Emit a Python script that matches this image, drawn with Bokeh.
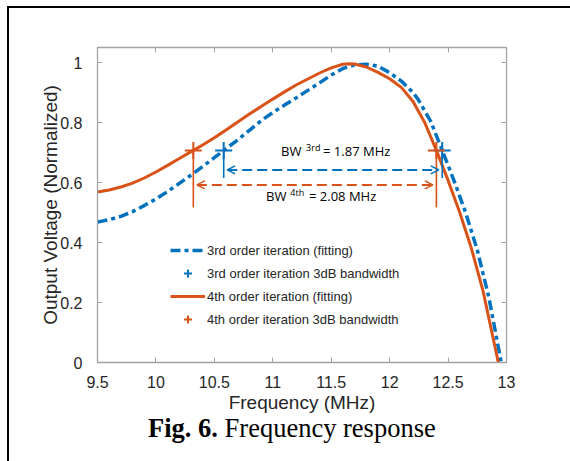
from bokeh.plotting import figure
from bokeh.layouts import column
from bokeh.models import (Range1d, LinearAxis, FixedTicker, Legend, LegendItem,
                          Arrow, OpenHead, Label, Div)
from bokeh.embed import file_html
from bokeh.resources import INLINE

# ---- data ----
freq4 = [9.5, 9.6, 9.7, 9.8, 9.9, 10.0, 10.1, 10.2, 10.32, 10.4, 10.5, 10.6, 10.7, 10.8,
         10.9, 11.0, 11.1, 11.2, 11.3, 11.4, 11.5, 11.6, 11.65, 11.7, 11.8, 11.9, 12.0,
         12.1, 12.2, 12.3, 12.4, 12.5, 12.6, 12.7, 12.8, 12.9, 12.93]
volt4 = [0.568, 0.575, 0.585, 0.598, 0.615, 0.635, 0.657, 0.680, 0.707, 0.725, 0.749,
         0.775, 0.802, 0.828, 0.853, 0.878, 0.902, 0.925, 0.945, 0.965, 0.982, 0.994,
         0.996, 0.995, 0.985, 0.967, 0.946, 0.917, 0.870, 0.800, 0.707, 0.607, 0.500,
         0.380, 0.237, 0.055, 0.0]

freq3 = [9.5, 9.6, 9.7, 9.8, 9.9, 10.0, 10.1, 10.2, 10.32, 10.45, 10.58, 10.7, 10.8,
         10.9, 11.0, 11.1, 11.2, 11.3, 11.4, 11.5, 11.6, 11.7, 11.8, 11.9, 12.0, 12.1,
         12.2, 12.25, 12.35, 12.45, 12.55, 12.65, 12.75, 12.85, 12.955]
volt3 = [0.468, 0.476, 0.487, 0.503, 0.523, 0.545, 0.570, 0.597, 0.630, 0.668, 0.707,
         0.742, 0.774, 0.806, 0.833, 0.858, 0.882, 0.907, 0.932, 0.958, 0.980, 0.992,
         0.994, 0.988, 0.966, 0.938, 0.900, 0.873, 0.805, 0.707, 0.607, 0.500, 0.375,
         0.215, 0.0]

bw3_freq = [10.58, 12.45]
bw4_freq = [10.32, 12.40]
bw_level = 0.707
bw3_value = "1.87 MHz"
bw4_value = "2.08 MHz"
bw3_line_bottom = 0.615
bw4_line_bottom = 0.517
bw3_arrow_y = 0.642
bw4_arrow_y = 0.592

xticks = [9.5, 10, 10.5, 11, 11.5, 12, 12.5, 13]
xtick_labels = ["9.5", "10", "10.5", "11", "11.5", "12", "12.5", "13"]
yticks = [0, 0.2, 0.4, 0.6, 0.8, 1]
ytick_labels = ["0", "0.2", "0.4", "0.6", "0.8", "1"]

legend_labels = ["3rd order iteration (fitting)",
                 "3rd order iteration 3dB bandwidth",
                 "4th order iteration (fitting)",
                 "4th order iteration 3dB bandwidth"]
caption_bold = "Fig. 6."
caption_text = "Frequency response"

BLUE = "#0072BD"
ORANGE = "#D95319"
AX = "#a3a3a3"
TXT = "#262626"
SANS = "Liberation Sans"

p = figure(width=561, height=410, x_range=Range1d(9.5, 13), y_range=Range1d(0, 1.05),
           output_backend="svg", toolbar_location=None,
           min_border_left=88, min_border_right=64, min_border_top=39, min_border_bottom=56)
p.xgrid.visible = False
p.ygrid.visible = False
p.outline_line_color = AX
p.outline_line_width = 1.3
p.background_fill_color = "white"
p.border_fill_color = "white"


def style_axis(ax, ticks, labels, show_labels):
    ax.ticker = FixedTicker(ticks=ticks)
    ax.axis_line_color = AX
    ax.major_tick_line_color = AX
    ax.major_tick_in = 5
    ax.major_tick_out = 0
    ax.minor_tick_line_color = None
    ax.major_label_text_font = SANS
    ax.major_label_text_color = TXT
    ax.major_label_text_font_size = "16px"
    if show_labels:
        ax.major_label_overrides = {t: l for t, l in zip(ticks, labels)}
    else:
        ax.major_label_overrides = {t: "" for t in ticks}
        ax.major_label_standoff = 0


style_axis(p.xaxis[0], xticks, xtick_labels, True)
style_axis(p.yaxis[0], yticks, ytick_labels, True)
p.xaxis.major_label_standoff = 13
p.yaxis.major_label_standoff = 15
p.xaxis.axis_label = "Frequency (MHz)"
p.yaxis.axis_label = "Output Voltage (Normalized)"
for ax in (p.xaxis[0], p.yaxis[0]):
    ax.axis_label_text_font = SANS
    ax.axis_label_text_font_size = "19px"
    ax.axis_label_text_font_style = "normal"
    ax.axis_label_text_color = TXT
p.xaxis.axis_label_standoff = 1
p.yaxis.axis_label_standoff = -4

top_ax = LinearAxis()
style_axis(top_ax, xticks, xtick_labels, False)
p.add_layout(top_ax, "above")
right_ax = LinearAxis()
style_axis(right_ax, yticks, ytick_labels, False)
p.add_layout(right_ax, "right")

# curves
l3 = p.line(freq3, volt3, color=BLUE, line_width=3.5, line_dash="10 4 4 4")
l4 = p.line(freq4, volt4, color=ORANGE, line_width=3)

# bandwidth vertical guides
p.segment(x0=bw4_freq, y0=[bw_level] * 2, x1=bw4_freq, y1=[bw4_line_bottom] * 2,
          color=ORANGE, line_width=1.6)
p.segment(x0=bw3_freq, y0=[bw_level] * 2, x1=bw3_freq, y1=[bw3_line_bottom] * 2,
          color=BLUE, line_width=1.6)

m3 = p.scatter(bw3_freq, [bw_level] * 2, marker="cross", size=17, line_width=2, color=BLUE)
m4 = p.scatter(bw4_freq, [bw_level] * 2, marker="cross", size=17, line_width=2, color=ORANGE)

# double arrows
gap = 0.03
for f, ay, c in ((bw3_freq, bw3_arrow_y, BLUE), (bw4_freq, bw4_arrow_y, ORANGE)):
    p.add_layout(Arrow(x_start=f[0] + gap, y_start=ay, x_end=f[1] - gap, y_end=ay,
                       line_color=c, line_width=2, line_dash="10 5",
                       start=OpenHead(size=8, line_color=c, line_width=1.6),
                       end=OpenHead(size=8, line_color=c, line_width=1.6)))

# BW annotations
ANN = "Open Sans"
def bw_text(x_bw, x_sup, x_eq, y, sup, val):
    p.add_layout(Label(x=x_bw, y=y, text="BW", text_font=ANN, text_font_size="13px",
                       text_color="black"))
    p.add_layout(Label(x=x_sup, y=y + 0.019, text=sup, text_font=ANN, text_font_size="9px",
                       text_color="black"))
    p.add_layout(Label(x=x_eq, y=y, text="= " + val, text_font=ANN, text_font_size="13px",
                       text_color="black"))

bw_text(11.071, 11.285, 11.43, 0.675, "3rd", bw3_value)
bw_text(10.942, 11.15, 11.31, 0.526, "4th", bw4_value)

# legend
legend = Legend(items=[LegendItem(label=legend_labels[0], renderers=[l3]),
                       LegendItem(label=legend_labels[1], renderers=[m3]),
                       LegendItem(label=legend_labels[2], renderers=[l4]),
                       LegendItem(label=legend_labels[3], renderers=[m4])],
                location=(73, 33), padding=0, margin=0, spacing=3,
                glyph_width=35, glyph_height=20, label_height=20, label_standoff=2,
                label_text_font=SANS, label_text_font_size="13px", label_text_color=TXT,
                background_fill_alpha=0, border_line_alpha=0)
p.add_layout(legend, "center")

caption = Div(text=('<div style="padding-left:139px; font-family:\'Liberation Serif\'; '
                    'font-size:26.5px; line-height:21px; color:black; white-space:nowrap;">'
                    '<b>' + caption_bold + '</b> ' + caption_text + '</div>'),
              width=561, height=43, margin=0)

root = column(p, caption, spacing=0, margin=(6, 0, 0, 7),
              styles={"border-left": "2px solid black", "border-top": "2px solid black"})

open("out.html", "w").write(file_html(root, INLINE))
